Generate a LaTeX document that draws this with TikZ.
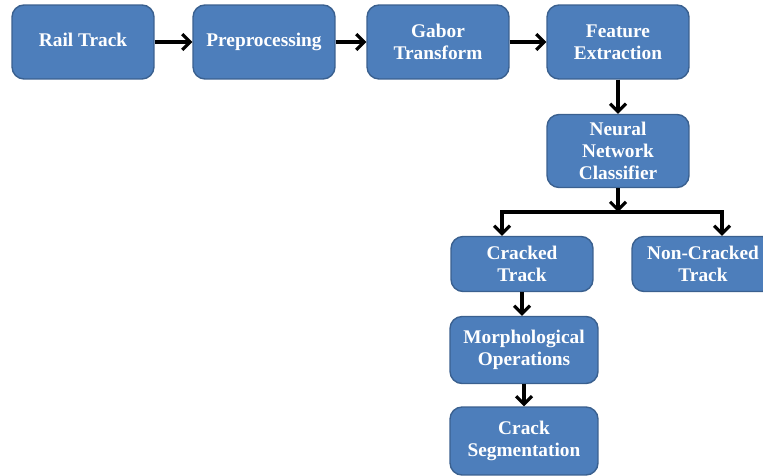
\documentclass[tikz,border=0pt]{standalone}
\usepackage{fontspec}
\setmainfont{Liberation Serif}
\usetikzlibrary{positioning,calc,arrows.meta}

\definecolor{boxblue}{RGB}{77,126,187}
\definecolor{boxedge}{RGB}{58,96,143}

\begin{document}
\begin{tikzpicture}[x=0.02cm,y=-0.02cm]
		\tikzset{stage/.style={draw=boxedge, line width=0.8pt, fill=boxblue, rounded corners=0.24cm,
				text=white, font=\fontsize{11}{12.5}\selectfont\bfseries, align=center,
				minimum width=2.84cm, minimum height=1.48cm, inner sep=2pt},
			oneline/.style={text height=1.6ex, text depth=0.5ex},
			arr/.style={line width=1.8pt, -{Straight Barb[length=4.5pt,width=9pt,line width=1.8pt]}}}
		\useasboundingbox (0,0) rectangle (763,476);
		% top row
		\node[stage, oneline] (rail) at (83,42) {Rail Track};
		\node[stage, oneline] (prep) at (264,42) {Preprocessing};
		\node[stage] (gabor) at (438,42) {Gabor\\Transform};
		\node[stage] (feat) at (618,42) {Feature\\Extraction};
		\node[stage, minimum height=1.46cm] (nn) at (618,151) {Neural\\Network\\Classifier};
		% outcome
		\node[stage, minimum height=1.1cm] (cr) at (522,264) {Cracked\\Track};
		\node[stage, minimum height=1.1cm] (ncr) at (703,264) {Non-Cracked\\Track};
		\node[stage, minimum width=2.96cm, minimum height=1.34cm] (morph) at (524,350) {Morphological\\Operations};
		\node[stage, minimum width=2.96cm, minimum height=1.36cm] (seg) at (524,441) {Crack\\Segmentation};
		\coordinate (split) at (618,212);
		\draw[arr] (rail) -- (prep);
		\draw[arr] (prep) -- (gabor);
		\draw[arr] (gabor) -- (feat);
		\draw[arr] (feat) -- (nn);
		\draw[arr] (nn) -- (split);
		\draw[arr] (split) -| ([xshift=-0.4cm]cr.north);
		\draw[arr] (split) -| ([xshift=0.38cm]ncr.north);
		\draw[arr] (cr) -- (cr |- morph.north);
		\draw[arr] (morph) -- (seg);
	\end{tikzpicture}
\end{document}
